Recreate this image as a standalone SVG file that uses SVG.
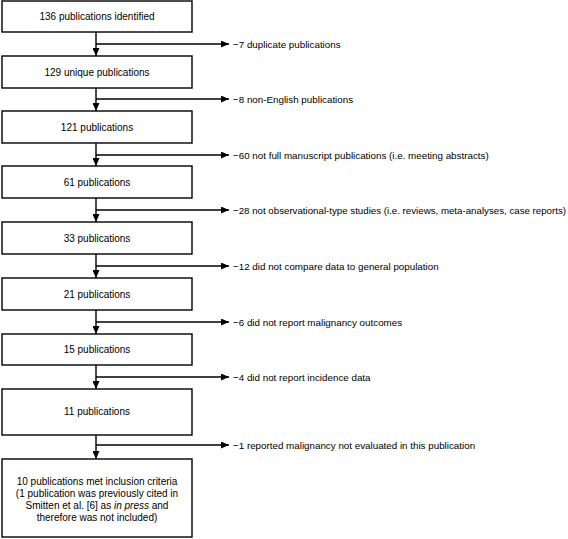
<svg xmlns="http://www.w3.org/2000/svg" width="568" height="539" viewBox="0 0 568 539">
<defs>
<marker id="ah" markerWidth="8" markerHeight="7" refX="8" refY="3.5" orient="auto" markerUnits="userSpaceOnUse">
<path d="M0,0 L8,3.5 L0,7 Z" fill="#000"/>
</marker>
</defs>
<style>
.box{fill:#fff;stroke:#000;stroke-width:1.4}
text{font-family:"Liberation Sans",Arial,sans-serif;font-size:10px;fill:#000}
.c{text-anchor:middle}
.r{font-size:9.8px}
.ln{stroke:#000;stroke-width:1.4;fill:none}
</style>
<rect x="0" y="0" width="568" height="539" fill="#fff"/>
<g id="connectors">
<line class="ln" x1="96" y1="32" x2="96" y2="56" marker-end="url(#ah)"/>
<line class="ln" x1="96" y1="44" x2="229" y2="44" marker-end="url(#ah)"/>
<line class="ln" x1="96" y1="88" x2="96" y2="111" marker-end="url(#ah)"/>
<line class="ln" x1="96" y1="99" x2="229" y2="99" marker-end="url(#ah)"/>
<line class="ln" x1="96" y1="143" x2="96" y2="166" marker-end="url(#ah)"/>
<line class="ln" x1="96" y1="155" x2="229" y2="155" marker-end="url(#ah)"/>
<line class="ln" x1="96" y1="198" x2="96" y2="222" marker-end="url(#ah)"/>
<line class="ln" x1="96" y1="210" x2="229" y2="210" marker-end="url(#ah)"/>
<line class="ln" x1="96" y1="254" x2="96" y2="278" marker-end="url(#ah)"/>
<line class="ln" x1="96" y1="266" x2="229" y2="266" marker-end="url(#ah)"/>
<line class="ln" x1="96" y1="310" x2="96" y2="334" marker-end="url(#ah)"/>
<line class="ln" x1="96" y1="322" x2="229" y2="322" marker-end="url(#ah)"/>
<line class="ln" x1="96" y1="365" x2="96" y2="389" marker-end="url(#ah)"/>
<line class="ln" x1="96" y1="377" x2="229" y2="377" marker-end="url(#ah)"/>
<line class="ln" x1="96" y1="435" x2="96" y2="459" marker-end="url(#ah)"/>
<line class="ln" x1="96" y1="445" x2="229" y2="445" marker-end="url(#ah)"/>
</g>
<g id="n1"><rect class="box" x="2" y="1" width="190" height="31"/><text class="c" x="97" y="20">136 publications identified</text></g>
<g id="e1"><text class="r" x="233" y="48">−7 duplicate publications</text></g>
<g id="n2"><rect class="box" x="2" y="56" width="190" height="32"/><text class="c" x="97" y="75.5">129 unique publications</text></g>
<g id="e2"><text class="r" x="233" y="103">−8 non-English publications</text></g>
<g id="n3"><rect class="box" x="2" y="111" width="190" height="32"/><text class="c" x="97" y="130.5">121 publications</text></g>
<g id="e3"><text class="r" x="233" y="159">−60 not full manuscript publications (i.e. meeting abstracts)</text></g>
<g id="n4"><rect class="box" x="2" y="166" width="190" height="32"/><text class="c" x="97" y="185.5">61 publications</text></g>
<g id="e4"><text class="r" x="233" y="214" textLength="333" lengthAdjust="spacingAndGlyphs">−28 not observational-type studies (i.e. reviews, meta-analyses, case reports)</text></g>
<g id="n5"><rect class="box" x="2" y="222" width="190" height="32"/><text class="c" x="97" y="241.5">33 publications</text></g>
<g id="e5"><text class="r" x="233" y="270">−12 did not compare data to general population</text></g>
<g id="n6"><rect class="box" x="2" y="278" width="190" height="32"/><text class="c" x="97" y="297.5">21 publications</text></g>
<g id="e6"><text class="r" x="233" y="326">−6 did not report malignancy outcomes</text></g>
<g id="n7"><rect class="box" x="2" y="334" width="190" height="31"/><text class="c" x="97" y="353">15 publications</text></g>
<g id="e7"><text class="r" x="233" y="381">−4 did not report incidence data</text></g>
<g id="n8"><rect class="box" x="2" y="389" width="190" height="46"/><text class="c" x="97" y="415">11 publications</text></g>
<g id="e8"><text class="r" x="233" y="449">−1 reported malignancy not evaluated in this publication</text></g>
<g id="n9"><rect class="box" x="2" y="459" width="190" height="78"/>
<text class="c" x="97" y="485">10 publications met inclusion criteria</text>
<text class="c" x="97" y="497">(1 publication was previously cited in</text>
<text class="c" x="97" y="509">Smitten et al. [6] as <tspan font-style="italic">in press</tspan> and</text>
<text class="c" x="97" y="521">therefore was not included)</text>
</g>
</svg>
